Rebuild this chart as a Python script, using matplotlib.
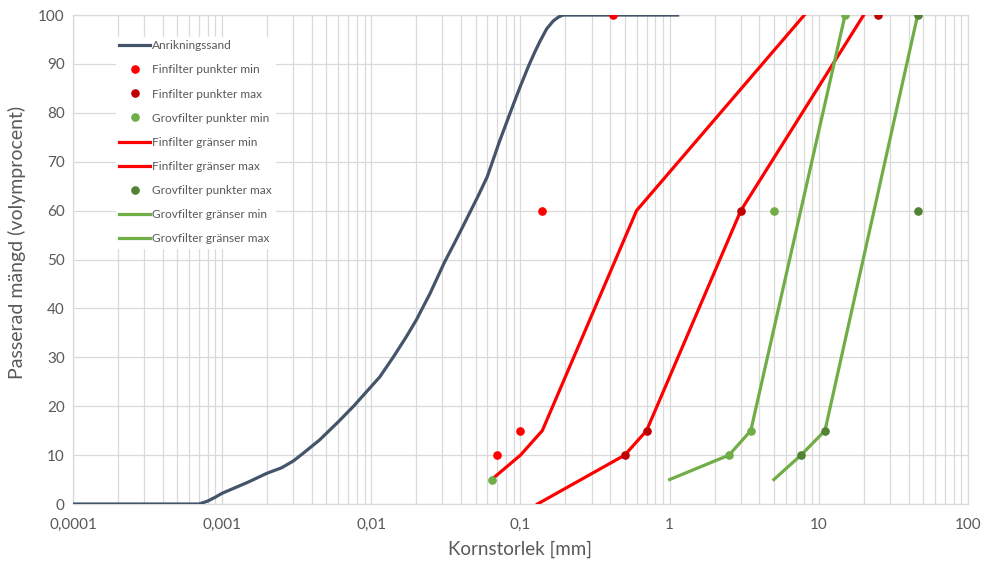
import numpy as np
import matplotlib.pyplot as plt
from matplotlib.ticker import FixedLocator, LogLocator, NullFormatter

plt.rcParams['font.family'] = ['Lato', 'DejaVu Sans']

# Anrikningssand (siktkurva)
sand_x = [0.0001, 0.0007, 0.0008, 0.0009, 0.001, 0.0015, 0.002, 0.0025, 0.003, 0.0035,
          0.0045, 0.006, 0.0076, 0.0095, 0.0114, 0.014, 0.017, 0.02, 0.0247, 0.031,
          0.036, 0.041, 0.052, 0.06, 0.072, 0.089, 0.1, 0.113, 0.125, 0.135, 0.15,
          0.166, 0.18, 0.193, 1.13]
sand_y = [0, 0, 0.6, 1.4, 2.2, 4.5, 6.3, 7.4, 8.8, 10.4, 13.1, 16.8, 20, 23.3, 26,
          30, 34, 37.6, 43, 49.5, 53.3, 56.7, 63, 67, 74, 81.5, 85.5, 89.5, 92.5,
          94.6, 97.2, 98.8, 99.6, 100, 100]

# Finfilter
fin_min_pkt_x = [0.07, 0.1, 0.14, 0.42]
fin_min_pkt_y = [10, 15, 60, 100]
fin_max_pkt_x = [0.5, 0.7, 3, 25]
fin_max_pkt_y = [10, 15, 60, 100]
fin_min_gr_x = [0.064, 0.1, 0.14, 0.6, 8]
fin_min_gr_y = [5, 10, 15, 60, 100]
fin_max_gr_x = [0.13, 0.5, 0.7, 3, 20]
fin_max_gr_y = [0, 10, 15, 60, 100]

# Grovfilter
grov_min_pkt_x = [0.064, 2.5, 3.5, 5, 15]
grov_min_pkt_y = [5, 10, 15, 60, 100]
grov_max_pkt_x = [7.6, 11, 46, 46]
grov_max_pkt_y = [10, 15, 60, 100]
grov_min_gr_x = [1, 2.5, 3.5, 15]
grov_min_gr_y = [5, 10, 15, 100]
grov_max_gr_x = [5, 7.6, 11, 46]
grov_max_gr_y = [5, 10, 15, 100]

x_ticks = [0.0001, 0.001, 0.01, 0.1, 1, 10, 100]
x_labels = ['0,0001', '0,001', '0,01', '0,1', '1', '10', '100']

c_sand = '#44546A'
c_red = '#FF0000'
c_dred = '#C00000'
c_lgreen = '#70AD47'
c_dgreen = '#548235'
c_text = '#595959'
c_grid = '#D9D9D9'

fig = plt.figure(figsize=(9.84, 5.67), dpi=100)
ax = fig.add_axes([0.0742, 0.1111, 0.9095, 0.8624])

lw = 2.3
ms = 5.2
ax.plot(sand_x, sand_y, color=c_sand, lw=lw, label='Anrikningssand', zorder=3)
ax.plot(fin_min_pkt_x, fin_min_pkt_y, 'o', color=c_red, ms=ms, ls='none', label='Finfilter punkter min', zorder=5)
ax.plot(fin_max_pkt_x, fin_max_pkt_y, 'o', color=c_dred, ms=ms, ls='none', label='Finfilter punkter max', zorder=5)
ax.plot(grov_min_pkt_x, grov_min_pkt_y, 'o', color=c_lgreen, ms=ms, ls='none', label='Grovfilter punkter min', zorder=5)
ax.plot(fin_min_gr_x, fin_min_gr_y, color=c_red, lw=lw, label='Finfilter gränser min', zorder=3)
ax.plot(fin_max_gr_x, fin_max_gr_y, color=c_red, lw=lw, label='Finfilter gränser max', zorder=3)
ax.plot(grov_max_pkt_x, grov_max_pkt_y, 'o', color=c_dgreen, ms=ms, ls='none', label='Grovfilter punkter max', zorder=5)
ax.plot(grov_min_gr_x, grov_min_gr_y, color=c_lgreen, lw=lw, label='Grovfilter gränser min', zorder=3)
ax.plot(grov_max_gr_x, grov_max_gr_y, color=c_lgreen, lw=lw, label='Grovfilter gränser max', zorder=3)

ax.set_xscale('log')
ax.set_xlim(0.0001, 100)
ax.set_ylim(0, 100)
ax.xaxis.set_major_locator(FixedLocator(x_ticks))
ax.set_xticklabels(x_labels)
ax.xaxis.set_minor_locator(LogLocator(base=10, subs=np.arange(2, 10)))
ax.xaxis.set_minor_formatter(NullFormatter())
ax.set_yticks(np.arange(0, 101, 10))

ax.grid(True, which='both', axis='x', color=c_grid, lw=0.9)
ax.grid(True, which='major', axis='y', color=c_grid, lw=0.9)
ax.set_axisbelow(True)
for s in ax.spines.values():
    s.set_color(c_grid)
    s.set_linewidth(0.9)
ax.tick_params(which='both', length=0, colors=c_text, labelsize=11)
ax.tick_params(axis='x', pad=10)
ax.tick_params(axis='y', pad=6)

ax.set_xlabel('Kornstorlek [mm]', color=c_text, fontsize=13.5, labelpad=6)
ax.set_ylabel('Passerad mängd (volymprocent)', color=c_text, fontsize=14)
ax.yaxis.set_label_coords(-0.052, 0.535)

leg = ax.legend(loc='upper left', bbox_to_anchor=(0.041, 0.968), frameon=True, fancybox=False,
                edgecolor='white', facecolor='white', framealpha=1, fontsize=8.6,
                handlelength=2.6, handletextpad=0.1, labelspacing=1.1, borderpad=0.3)
for t in leg.get_texts():
    t.set_color(c_text)
leg.set_zorder(10)

fig.savefig('out.png', dpi=100)
